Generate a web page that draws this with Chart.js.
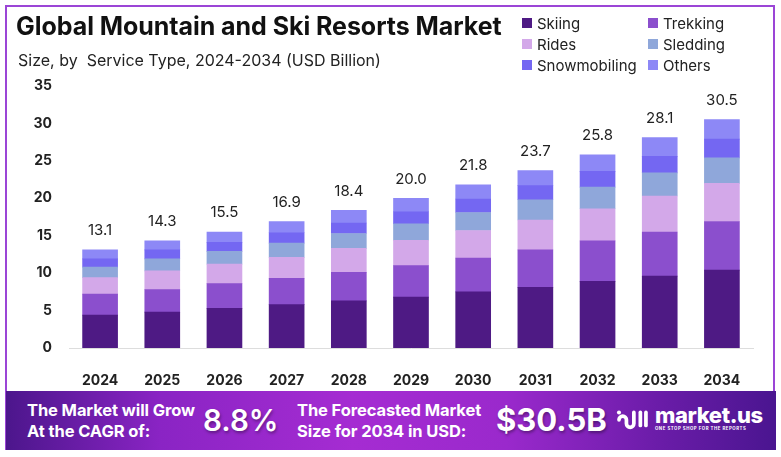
<!DOCTYPE html>
<html lang="en">
<head>
    <meta charset="UTF-8">
    <title>Global Mountain and Ski Resorts Market</title>
    <script src="https://cdn.jsdelivr.net/npm/chart.js"></script>
    <style>
        html, body { margin: 0; padding: 0; background: #fff; }
        body { width: 781px; height: 457px; position: relative; overflow: hidden; font-family: Inter, "Open Sans", sans-serif; }
        #frame { position: absolute; left: 5px; top: 5px; width: 766px; height: 443px; border: 2px solid #9b45d6; border-bottom: none; }
        #chartWrap { position: absolute; left: 0; top: 0; width: 781px; height: 457px; }
        .title { position: absolute; left: 16px; top: 11px; font-size: 25px; font-weight: 700; color: #111; letter-spacing: -0.05px; white-space: nowrap; }
        .subtitle { position: absolute; left: 18px; top: 50px; font-size: 16px; color: #222; white-space: nowrap; }
        #legend { position: absolute; left: 522px; top: 14px; display: grid; grid-template-columns: 126px 120px; row-gap: 3px; font-size: 15px; color: #222; }
        #legend div { display: flex; align-items: center; height: 18px; }
        #legend span.sw { width: 10px; height: 10px; margin-right: 5px; display: inline-block; }
        #banner { position: absolute; left: 6px; top: 391px; width: 770px; height: 59px;
            background: linear-gradient(90deg, #4c168c 0%, #8a24c4 20%, #a52cd2 45%, #9a29cc 65%, #6a1ca8 85%, #4a1590 100%); color: #fff; }
        .b { position: absolute; white-space: nowrap; }
        .small { font-size: 16.5px; font-weight: 700; line-height: 21px; top: 9px; letter-spacing: -0.1px; }
        .big { font-size: 29.5px; font-weight: 600; top: 11px; text-shadow: 1px 2px 3px rgba(0,0,0,0.35); }
        .logo { left: 609px; top: 13px; display: flex; align-items: center; }
        .logo .name { font-size: 22px; font-weight: 800; line-height: 22px; letter-spacing: -0.4px; }
        .logo .tag { font-size: 4.3px; font-weight: 700; letter-spacing: 0.55px; }
    </style>
</head>
<body>
    <div id="frame"></div>
    <div id="chartWrap"><canvas id="marketChart" width="781" height="457"></canvas></div>
    <div class="title">Global Mountain and Ski Resorts Market</div>
    <div class="subtitle">Size, by&nbsp; Service Type, 2024-2034 (USD Billion)</div>
    <div id="legend"></div>
    <div id="banner">
        <div class="b small" style="left:21px;">The Market will Grow<br>At the CAGR of:</div>
        <div class="b big" style="left:197px;">8.8%</div>
        <div class="b small" style="left:291px;">The Forecasted Market<br>Size for 2034 in USD:</div>
        <div class="b big" style="left:490px; font-size:31px; top:10px; font-weight:700;">$30.5B</div>
        <div class="b logo">
            <svg width="34" height="26" viewBox="0 0 36 28">
                <g fill="none" stroke="#fff" stroke-width="4" stroke-linecap="round">
                    <path d="M4 16 a4 4 0 0 1 8 0 v4 a4 4 0 0 0 8 0 v-12"/>
                    <path d="M27 8 v14"/>
                    <path d="M33 8 v14"/>
                </g>
                <circle cx="4" cy="8" r="2.2" fill="#fff"/>
            </svg>
            <div style="margin-left:6px;">
                <div class="name">market.us</div>
                <div class="tag">ONE STOP SHOP FOR THE REPORTS</div>
            </div>
        </div>
    </div>

    <script>
        // Chart data
        const years = ['2024', '2025', '2026', '2027', '2028', '2029', '2030', '2031', '2032', '2033', '2034'];
        const skiing       = [4.4, 4.8, 5.3, 5.8, 6.3, 6.8, 7.5, 8.1, 8.9, 9.6, 10.4];
        const trekking     = [2.8, 3.0, 3.3, 3.5, 3.8, 4.2, 4.5, 5.0, 5.4, 5.9, 6.5];
        const rides        = [2.2, 2.5, 2.6, 2.8, 3.2, 3.4, 3.7, 4.0, 4.3, 4.8, 5.1];
        const sledding     = [1.4, 1.6, 1.7, 1.9, 2.0, 2.2, 2.4, 2.7, 2.9, 3.1, 3.4];
        const snowmobiling = [1.1, 1.2, 1.2, 1.4, 1.4, 1.6, 1.8, 1.9, 2.1, 2.2, 2.5];
        const others       = [1.2, 1.2, 1.4, 1.5, 1.7, 1.8, 1.9, 2.0, 2.2, 2.5, 2.6];
        const totals       = [13.1, 14.3, 15.5, 16.9, 18.4, 20.0, 21.8, 23.7, 25.8, 28.1, 30.5];
        const yTicks       = [0, 5, 10, 15, 20, 25, 30, 35];

        const series = [
            { label: 'Skiing', data: skiing, color: '#4e1a84' },
            { label: 'Trekking', data: trekking, color: '#8b4fcd' },
            { label: 'Rides', data: rides, color: '#d3a8e9' },
            { label: 'Sledding', data: sledding, color: '#8fa7da' },
            { label: 'Snowmobiling', data: snowmobiling, color: '#7467f2' },
            { label: 'Others', data: others, color: '#8d88f6' }
        ];

        // HTML legend, two columns
        const legendEl = document.getElementById('legend');
        series.forEach(s => {
            const item = document.createElement('div');
            item.innerHTML = '<span class="sw" style="background:' + s.color + '"></span>' + s.label;
            legendEl.appendChild(item);
        });

        // Totals above each stack
        const totalLabels = {
            id: 'totalLabels',
            afterDatasetsDraw(chart) {
                const ctx = chart.ctx;
                const topMeta = chart.getDatasetMeta(chart.data.datasets.length - 1);
                ctx.save();
                ctx.font = '15px Inter, sans-serif';
                ctx.fillStyle = '#222';
                ctx.textAlign = 'center';
                ctx.textBaseline = 'middle';
                topMeta.data.forEach((bar, i) => {
                    ctx.fillText(totals[i].toFixed(1), bar.x, bar.y - 19);
                });
                ctx.restore();
            }
        };

        const ctx = document.getElementById('marketChart').getContext('2d');
        new Chart(ctx, {
            type: 'bar',
            data: {
                labels: years,
                datasets: series.map(s => ({
                    label: s.label,
                    data: s.data,
                    backgroundColor: s.color,
                    borderWidth: 0,
                    barThickness: 35
                }))
            },
            options: {
                responsive: false,
                animation: false,
                layout: { padding: { top: 86, right: 28, bottom: 66, left: 0 } },
                plugins: {
                    legend: { display: false },
                    tooltip: { enabled: false }
                },
                scales: {
                    x: {
                        stacked: true,
                        grid: { display: false },
                        border: { display: true, color: '#dddddd', width: 1 },
                        ticks: { color: '#222', font: { family: 'Inter', size: 14, weight: '700' }, padding: 16 },
                        afterFit(scale) { scale.height = 43; }
                    },
                    y: {
                        stacked: true,
                        min: 0,
                        max: 35,
                        afterBuildTicks(scale) { scale.ticks = yTicks.map(v => ({ value: v })); },
                        grid: { display: false, drawTicks: false },
                        border: { display: false },
                        ticks: { color: '#222', font: { family: 'Inter', size: 14, weight: '700' }, padding: 17 },
                        afterFit(scale) { scale.width = 69; }
                    }
                }
            },
            plugins: [totalLabels]
        });
    </script>
</body>
</html>
